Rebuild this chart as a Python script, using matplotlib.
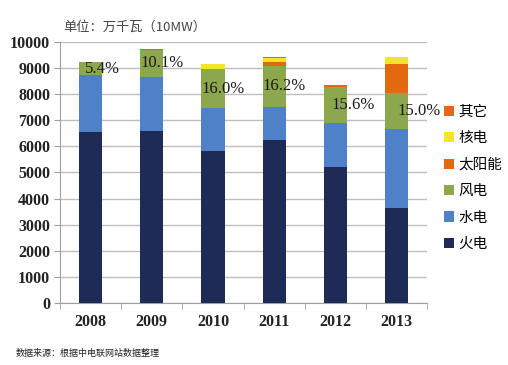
import matplotlib
matplotlib.use("Agg")
import matplotlib.pyplot as plt
import numpy as np

years = ["2008", "2009", "2010", "2011", "2012", "2013"]
fire = [6560, 6600, 5820, 6240, 5220, 3660]
hydro = [2170, 2060, 1630, 1270, 1680, 2990]
wind = [480, 1020, 1500, 1570, 1350, 1400]
solar = [0, 30, 0, 150, 90, 1100]
nuclear = [0, 0, 180, 150, 0, 250]
other = [0, 0, 0, 30, 0, 0]
wind_pct = ["5.4%", "10.1%", "16.0%", "16.2%", "15.6%", "15.0%"]
series_names = ["火电", "水电", "风电", "太阳能", "核电", "其它"]

colors = ["#1F2B57", "#4F81C8", "#8DA84C", "#E2690F", "#F2E52A", "#E2690F"]
label_dx = [0.10, 0.0, 0.0, 0.0, 0.12, 0.2]

cjk = ["Noto Sans CJK SC", "DejaVu Sans"]
plt.rcParams['font.family'] = cjk

fig = plt.figure(figsize=(5.08, 3.65), dpi=100)
ax = fig.add_axes([0.118, 0.169, 0.723, 0.717])

x = np.arange(len(years))
w = 0.38
data = [fire, hydro, wind, solar, nuclear, other]
bottom = np.zeros(len(years))
handles = []
for vals, c, name in zip(data, colors, series_names):
    b = ax.bar(x, vals, w, bottom=bottom, color=c, label=name, zorder=3)
    handles.append(b)
    bottom += np.array(vals)

# wind percentage labels, centred on wind segment
for i in range(len(years)):
    ymid = fire[i] + hydro[i] + wind[i] / 2
    ax.text(x[i] - w / 2 + label_dx[i], ymid, wind_pct[i], ha="left", va="center",
            fontsize=12, family="Liberation Serif", color="#1a1a1a", zorder=5)

ax.set_xlim(-0.5, len(years) - 0.5)
ax.set_ylim(0, 10000)
ax.set_yticks(np.arange(0, 10001, 1000))
ax.set_yticklabels([str(v) for v in range(0, 10001, 1000)],
                   family="Liberation Serif", fontweight="bold", fontsize=11.5, color="#222222")
ax.set_xticks(x)
ax.set_xticklabels(years, family="Liberation Serif", fontweight="bold", fontsize=11.5, color="#222222")
ax.set_xticks(np.arange(-0.5, len(years), 1), minor=True)
ax.tick_params(axis="x", which="major", length=0, pad=8)
ax.tick_params(axis="x", which="minor", length=4, color="#A0A0A0", direction="out")
ax.tick_params(axis="y", length=4, color="#A0A0A0", direction="out", pad=3)

ax.grid(axis="y", color="#BEBEBE", linewidth=1.0, zorder=0)
for s in ["top", "right"]:
    ax.spines[s].set_visible(False)
for s in ["left", "bottom"]:
    ax.spines[s].set_color("#A0A0A0")

leg = ax.legend(handles[::-1], series_names[::-1], loc="upper left",
                bbox_to_anchor=(1.03, 0.78), frameon=False, fontsize=10.5,
                handlelength=0.7, handleheight=0.7, handletextpad=0.3,
                labelspacing=0.85, borderaxespad=0)

fig.text(0.124, 0.925, "单位：万千瓦（10MW）", fontsize=9.5, color="#444444", ha="left", va="center")
fig.text(0.03, 0.033, "数据来源：根据中电联网站数据整理", fontsize=6.5, color="#222222", ha="left", va="center")

fig.savefig("out.png", dpi=100)
